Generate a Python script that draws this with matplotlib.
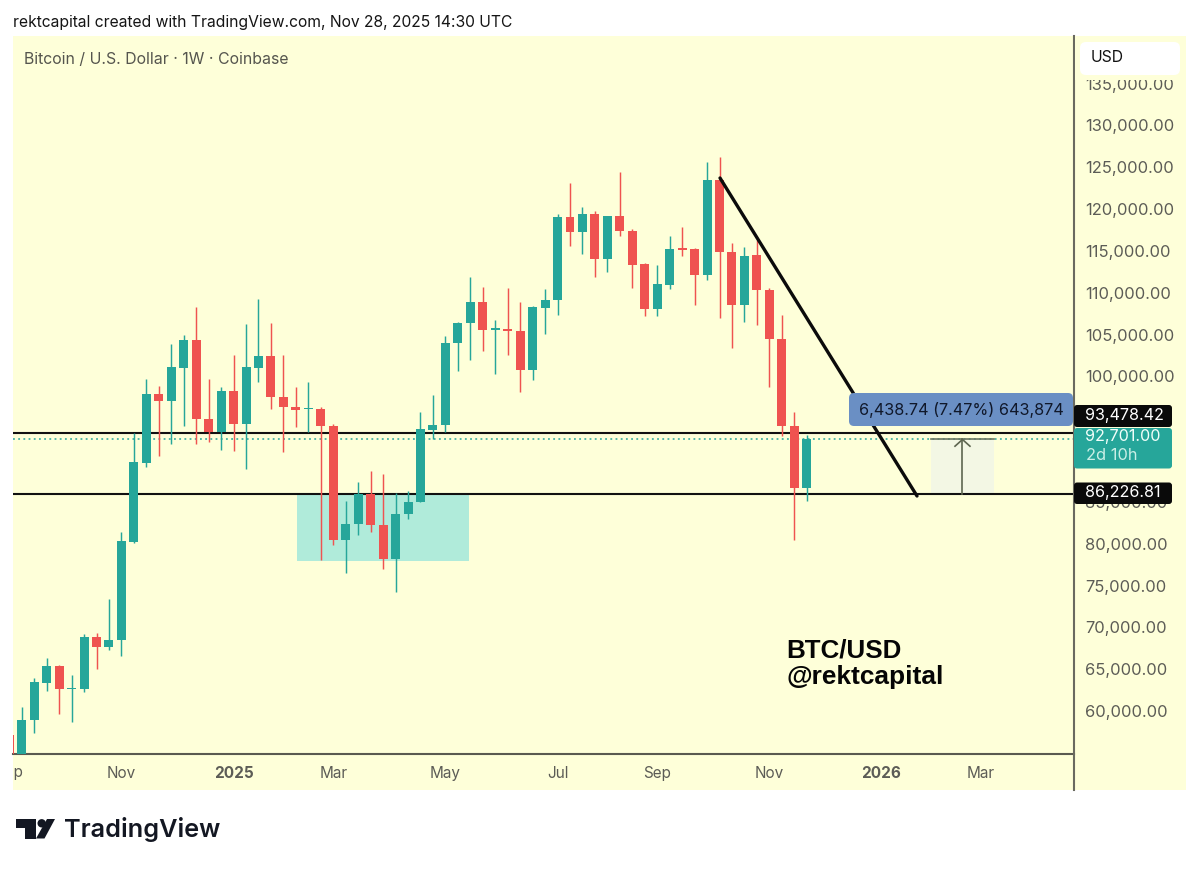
import matplotlib
matplotlib.use("Agg")
import matplotlib.pyplot as plt
from matplotlib.patches import Rectangle, FancyBboxPatch, Polygon, Circle
from matplotlib.lines import Line2D
from matplotlib.transforms import Affine2D, Bbox

W, H = 1200, 869
opens = [57390,54500,59145,63640,65630,62830,62850,69100,67940,68740,80450,89930,98170,97340,101250,104560,95150,93600,98500,94550,101250,102680,97740,96550,96310,96350,94350,80730,82640,86190,82450,78420,83800,85200,93870,94400,104230,106590,109170,105820,105870,105700,101040,108460,109340,119290,117460,119610,114310,119450,117650,113640,108300,111200,115550,115430,112320,123710,115140,108770,114710,110570,104750,94280,86870]
highs = [57390,60770,64200,66550,65750,64520,69420,69540,73680,81610,93510,99970,99090,104080,105190,108500,99970,99010,102800,106470,109530,106620,102760,98970,99610,96580,94550,85380,87590,88900,88610,86270,86580,96020,98020,105070,106780,112080,110920,106950,110810,109130,108620,110690,119610,123390,120480,120010,119450,124670,117820,113760,113520,116980,118090,115550,125900,126420,116220,115670,116540,110810,107610,96020,93240]
lows = [54000,54000,57590,62680,59900,58980,62530,65280,67550,66870,80370,89450,90770,92200,94310,92200,92440,91410,91330,89140,99540,96310,91240,94190,93630,78300,80060,76710,81290,81650,77190,74510,83240,85200,92760,93630,100920,102240,103240,100490,102830,98410,99810,105310,107580,115820,114900,112080,112750,117060,110840,107500,107420,110720,114590,108770,111800,107180,103670,106780,106380,99010,93120,80660,85390]
closes = [54500,59180,63690,65630,62850,62950,69100,67940,68780,80540,89980,98170,97340,101330,104560,95150,93630,98500,94550,101330,102680,97740,96550,96170,96470,94350,80730,82640,86190,82450,78420,83830,85230,93920,94400,104230,106590,109170,105820,105990,105670,101040,108500,109340,119290,117460,119610,114310,119450,117620,113550,108300,111250,115430,115380,112320,123710,115140,108770,114630,110570,104750,94280,86870,92701]
weeks = list(range(len(opens)))

price_ticks = [60000, 65000, 70000, 75000, 80000, 85000, 100000, 105000, 110000, 115000, 120000, 125000, 130000, 135000]
date_ticks = [9, 18, 26, 35, 44, 52, 61, 70, 78]
date_labels = ["Nov", "2025", "Mar", "May", "Jul", "Sep", "Nov", "2026", "Mar"]
first_date_tick = 0
first_date_label = "Sep"
level_high = 93478.42
level_low = 86226.81
last_price = 92701.00
zone_weeks = [23.1, 36.9]
zone_prices = [78180, 86227]
trend_weeks = [57.04, 72.85]
trend_prices = [123950, 85950]
measure_weeks = [74.0, 79.0]

UP, DOWN = "#26A69A", "#EF5350"
CREAM = "#FEFFD9"
SANS = ["Inter", "DejaVu Sans"]

fig = plt.figure(figsize=(W / 100, H / 100), dpi=100, facecolor="white")
px = Affine2D().scale(1, -1).translate(0, H)


def add(patch):
    patch.set_transform(px)
    fig.add_artist(patch)
    return patch


def ftext(x, y, s, **kw):
    kw.setdefault("family", SANS)
    kw.setdefault("va", "center")
    kw.setdefault("zorder", 6)
    t = fig.text(x, y, s, transform=px, **kw)
    return t


add(Rectangle((13, 36), 1173, 754, fc=CREAM, ec="none", zorder=-1))

ax = fig.add_axes([13 / W, 1 - 753.5 / H, (1074 - 13) / W, (753.5 - 36) / H], facecolor="none", zorder=1)

ax.add_patch(Rectangle((zone_weeks[0], zone_prices[0]), zone_weeks[1] - zone_weeks[0],
                       zone_prices[1] - zone_prices[0], fc="#B0EBDA", ec="none", zorder=1))
ax.add_patch(Rectangle((measure_weeks[0], level_low), measure_weeks[1] - measure_weeks[0],
                       last_price - level_low, fc="#F3F7E4", ec="none", zorder=1.5))
ax.axhline(level_high, color="#111111", lw=1.5, zorder=2)
ax.axhline(level_low, color="#111111", lw=1.5, zorder=2)
ax.axhline(last_price, color=UP, lw=1.1, ls=(0, (1.2, 2.2)), zorder=2)

colors = [UP if c >= o else DOWN for o, c in zip(opens, closes)]
ax.vlines(weeks, lows, highs, colors=colors, lw=1.05, zorder=3)
ax.bar(weeks, [max(abs(c - o), 120) for o, c in zip(opens, closes)], bottom=[min(o, c) for o, c in zip(opens, closes)],
       width=0.72, color=colors, zorder=4)

ax.plot(trend_weeks, trend_prices, color="#0B0B0B", lw=2.4, solid_capstyle="round", zorder=5)

mid = sum(measure_weeks) / 2
ax.plot(measure_weeks, [last_price, last_price], color="#6B7560", lw=1.2, zorder=5)
ax.plot([mid, mid], [level_low, last_price], color="#5E6650", lw=1.2, zorder=5)
ax.plot([mid - 0.6, mid, mid + 0.6], [last_price - 800, last_price, last_price - 800],
        color="#5E6650", lw=1.2, zorder=5)

for s in ("top", "left", "right"):
    ax.spines[s].set_visible(False)
ax.spines["bottom"].set_color("#5A5A50")
ax.spines["bottom"].set_linewidth(1.5)

ax.yaxis.tick_right()
ax.set_yticks(price_ticks, [f"{p:,.2f}" for p in price_ticks])
ax.tick_params(axis="y", length=0, pad=8, labelsize=11.9, labelcolor="#5C5C56")
ax.set_xticks(date_ticks, date_labels)
ax.tick_params(axis="x", length=0, pad=9, labelsize=11, labelcolor="#5C5C56")
ax.set_xlim(0.297, 85.45)
ax.set_ylim(145221 - 119.5 * 753.5, 145221 - 119.5 * 36)

up2 = Affine2D().translate(0, 2)
for lbl in ax.get_xticklabels():
    lbl.set_family(SANS)
    if lbl.get_text().startswith("20"):
        lbl.set_fontweight("bold")
for lbl in ax.get_yticklabels():
    lbl.set_family(SANS)
    lbl.set_transform(lbl.get_transform() + up2)

# first date label is cut by the panel's left edge
first = ax.text(first_date_tick, -0.0265, first_date_label, transform=ax.get_xaxis_transform(),
                ha="center", va="center", fontsize=11, color="#5C5C56", family=SANS, clip_on=True)
first.set_clip_box(Bbox([[13, 0], [1186, H]]))

# price axis rule
fig.add_artist(Line2D([1074, 1074], [36, 790], transform=px, color="#6A6A60", lw=1.5, zorder=3))

# header text
ftext(13, 23, "rektcapital created with TradingView.com, Nov 28, 2025 14:30 UTC", fontsize=11.27, color="#151515")
ftext(24, 59, "Bitcoin / U.S. Dollar · 1W · Coinbase", fontsize=11.4, color="#55554E")

# USD button, with the cream strip that cuts the top price label
add(Rectangle((1075, 36), 111, 44, fc=CREAM, ec="none", zorder=4))
add(FancyBboxPatch((1080, 42), 100, 33, boxstyle="round,pad=0,rounding_size=6", fc="white", ec="none", zorder=5))
ftext(1091, 58, "USD", fontsize=11.3, color="#111111")

# price labels
add(FancyBboxPatch((849, 393), 224, 33, boxstyle="round,pad=0,rounding_size=5", fc="#6A8FC4", ec="none", zorder=5))
ftext(961.5, 410, "6,438.74 (7.47%) 643,874", fontsize=11.7, color="#10182A", ha="center")
add(FancyBboxPatch((1074, 405), 98, 22, boxstyle="round,pad=0,rounding_size=3", fc="#0A0A0A", ec="none", zorder=5))
ftext(1085, 415.5, "93,478.42", fontsize=11.6, color="white")
add(FancyBboxPatch((1074, 428), 98, 40.5, boxstyle="round,pad=0,rounding_size=3", fc="#26A69A", ec="none", zorder=5))
ftext(1085, 437, "92,701.00", fontsize=11.6, color="#F2FFFA")
ftext(1086, 455, "2d 10h", fontsize=11.8, color="#C9EFE6")
add(FancyBboxPatch((1074, 482.5), 98, 21.5, boxstyle="round,pad=0,rounding_size=3", fc="#0A0A0A", ec="none", zorder=5))
ftext(1085, 492.5, "86,226.81", fontsize=11.6, color="white")

# watermark text
ftext(786, 650, "BTC/USD", fontsize=18.7, fontweight="bold", family="Liberation Sans", color="#050505")
ftext(786, 677, "@rektcapital", fontsize=18.9, fontweight="bold", family="Liberation Sans", color="#050505")

# TradingView logo
LOGO = "#131722"
add(Polygon([(16, 819), (36, 819), (36, 838.5), (25, 838.5), (25, 827.7), (16, 827.7)], closed=True, fc=LOGO, ec="none", zorder=6))
add(Circle((41.7, 823.3), 4.2, fc=LOGO, ec="none", zorder=6))
add(Polygon([(47, 819), (55, 819), (44.5, 838.5), (36, 838.5)], closed=True, fc=LOGO, ec="none", zorder=6))
ftext(64, 829.5, "TradingView", fontsize=18.2, fontweight="semibold", color=LOGO)

fig.savefig("out.png", dpi=100, facecolor="white")
